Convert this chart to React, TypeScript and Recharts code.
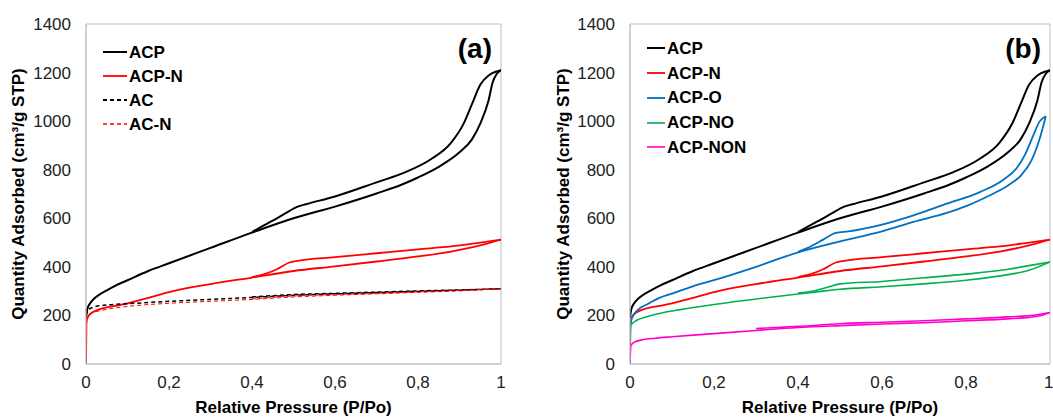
import React from "react";
import { LineChart, Line, XAxis, YAxis, ReferenceArea, Legend, Label } from "recharts";

// isotherm branches: [P/Po, quantity adsorbed]
const ACP_ADS = [[0, 190], [0.003, 225], [0.01, 250], [0.02, 270], [0.03, 283], [0.05, 303], [0.07, 322], [0.1, 345], [0.15, 383], [0.2, 415], [0.3, 478], [0.4, 541], [0.5, 600], [0.6, 648], [0.7, 702], [0.76, 738], [0.8, 768], [0.85, 812], [0.9, 872], [0.93, 925], [0.95, 990], [0.97, 1085], [0.98, 1160], [0.99, 1195], [1, 1210]];
const ACP_DES = [[0.4, 543], [0.42, 563], [0.45, 590], [0.48, 620], [0.51, 648], [0.53, 658], [0.6, 690], [0.7, 748], [0.77, 790], [0.83, 842], [0.88, 912], [0.91, 990], [0.93, 1070], [0.95, 1150], [0.97, 1188], [0.99, 1205], [1, 1210]];
const ACPN_ADS = [[0, 0], [0.001, 168], [0.005, 195], [0.015, 212], [0.03, 224], [0.05, 233], [0.075, 240], [0.1, 250], [0.15, 272], [0.2, 296], [0.3, 329], [0.4, 356], [0.5, 383], [0.6, 402], [0.7, 422], [0.8, 443], [0.88, 463], [0.95, 488], [1, 512]];
const ACPN_DES = [[0.4, 358], [0.43, 370], [0.46, 390], [0.49, 418], [0.51, 425], [0.6, 440], [0.7, 456], [0.8, 472], [0.88, 484], [0.95, 500], [1, 512]];
const AC_ADS = [[0, 200], [0.005, 222], [0.02, 235], [0.05, 243], [0.1, 248], [0.2, 258], [0.3, 266], [0.4, 274], [0.5, 283], [0.6, 289], [0.7, 294], [0.8, 299], [0.9, 304], [1, 310]];
const AC_DES = [[0.4, 276], [0.5, 286], [0.6, 291], [0.7, 296], [0.8, 301], [0.9, 305], [1, 310]];
const ACN_ADS = [[0, 180], [0.005, 202], [0.02, 213], [0.05, 225], [0.1, 237], [0.2, 250], [0.3, 258], [0.4, 266], [0.5, 276], [0.6, 283], [0.7, 289], [0.8, 295], [0.9, 301], [1, 310]];
const ACN_DES = [[0.4, 268], [0.5, 280], [0.6, 286], [0.7, 291], [0.8, 297], [0.9, 303], [1, 310]];
const ACPO_ADS = [[0, 150], [0.003, 180], [0.01, 205], [0.02, 225], [0.04, 245], [0.07, 272], [0.1, 290], [0.15, 320], [0.2, 345], [0.3, 400], [0.4, 460], [0.5, 505], [0.6, 546], [0.675, 585], [0.754, 622], [0.8, 650], [0.857, 695], [0.9, 735], [0.93, 775], [0.955, 835], [0.975, 925], [0.99, 1020]];
const ACPO_DES = [[0.4, 462], [0.42, 476], [0.46, 512], [0.49, 540], [0.52, 546], [0.6, 574], [0.675, 612], [0.754, 660], [0.833, 708], [0.89, 760], [0.92, 805], [0.94, 860], [0.96, 940], [0.975, 998], [0.99, 1020]];
const ACPNO_ADS = [[0, 88], [0.002, 160], [0.016, 180], [0.04, 195], [0.08, 212], [0.12, 224], [0.2, 245], [0.32, 272], [0.44, 296], [0.5, 308], [0.6, 318], [0.7, 330], [0.8, 345], [0.9, 368], [0.95, 386], [1, 420]];
const ACPNO_DES = [[0.4, 292], [0.44, 302], [0.47, 316], [0.5, 330], [0.6, 340], [0.7, 355], [0.8, 370], [0.9, 390], [0.95, 405], [1, 420]];
const ACPNON_ADS = [[0, 0], [0.002, 75], [0.01, 90], [0.03, 100], [0.06, 106], [0.1, 112], [0.2, 125], [0.3, 138], [0.4, 150], [0.5, 158], [0.6, 165], [0.7, 170], [0.8, 178], [0.9, 186], [0.95, 192], [0.98, 200], [1, 212]];
const ACPNON_DES = [[0.3, 146], [0.4, 155], [0.5, 166], [0.6, 172], [0.7, 178], [0.8, 186], [0.9, 194], [0.97, 203], [1, 212]];

const X_TICKS = [0, 0.2, 0.4, 0.6, 0.8, 1];
const Y_TICKS = [0, 200, 400, 600, 800, 1000, 1200, 1400];

const FONT = "'Liberation Sans', Arial, sans-serif";

type Series = { name: string; color: string; width: number; dash?: string; ads: number[][]; des: number[][] };

const ACP: Series = { name: "ACP", color: "#000000", width: 2, ads: ACP_ADS, des: ACP_DES };
const ACPN: Series = { name: "ACP-N", color: "#ff0000", width: 1.8, ads: ACPN_ADS, des: ACPN_DES };

const SERIES_A: Series[] = [
  ACP,
  ACPN,
  { name: "AC", color: "#000000", width: 1.5, dash: "4 3", ads: AC_ADS, des: AC_DES },
  { name: "AC-N", color: "#ff0000", width: 1, dash: "4 3", ads: ACN_ADS, des: ACN_DES },
];
const SERIES_B: Series[] = [
  ACP,
  ACPN,
  { name: "ACP-O", color: "#0070c0", width: 1.8, ads: ACPO_ADS, des: ACPO_DES },
  { name: "ACP-NO", color: "#00b050", width: 1.6, ads: ACPNO_ADS, des: ACPNO_DES },
  { name: "ACP-NON", color: "#ff00cc", width: 1.6, ads: ACPNON_ADS, des: ACPNON_DES },
];

const toPts = (arr: number[][]) => arr.map(([x, y]) => ({ x, y }));

type PanelProps = {
  series: Series[];
  letter: string;
  left: number;
  width: number;
  margin: { top: number; right: number; left: number; bottom: number };
  yLabelX: number;
  legendLeft: number;
  legendTop: number;
  rowH: number;
  sample: number;
};

function Panel(p: PanelProps) {
  const plotRight = p.width - p.margin.right;
  return (
    <div style={{ position: "absolute", left: p.left, top: 0, width: p.width, height: 417 }}>
      <LineChart width={p.width} height={417} margin={p.margin}>
        <XAxis
          type="number"
          dataKey="x"
          domain={[0, 1]}
          ticks={X_TICKS}
          tickFormatter={(v: number) => String(v).replace(".", ",")}
          tickLine={false}
          tickSize={0}
          tickMargin={12}
          height={30}
          stroke="#bfbfbf"
          tick={{ fill: "#222", fontSize: 17, fontFamily: FONT }}
          allowDataOverflow
        >
          <Label
            content={(props: any) => {
              const vb = props.viewBox;
              return (
                <text x={vb.x + vb.width / 2} y={vb.y + 49} textAnchor="middle" fontFamily={FONT} fontWeight="bold" fontSize={17} fill="#000">
                  Relative Pressure (P/Po)
                </text>
              );
            }}
          />
        </XAxis>
        <YAxis
          type="number"
          domain={[0, 1400]}
          ticks={Y_TICKS}
          tickLine={false}
          tickSize={0}
          tickMargin={15}
          width={50}
          stroke="#bfbfbf"
          tick={{ fill: "#222", fontSize: 17, fontFamily: FONT }}
        >
          <Label
            content={(props: any) => {
              const vb = props.viewBox;
              const cy = vb.y + vb.height / 2;
              return (
                <text x={p.yLabelX} y={cy} transform={`rotate(-90, ${p.yLabelX}, ${cy})`} textAnchor="middle" fontFamily={FONT} fontWeight="bold" fontSize={17} fill="#000">
                  Quantity Adsorbed (cm³/g STP)
                </text>
              );
            }}
          />
        </YAxis>
        <ReferenceArea x1={0} x2={1} y1={0} y2={1400} fill="none" stroke="#bfbfbf" strokeWidth={1} />
        {p.series.map((s) => (
          <Line
            key={s.name + "-ads"}
            data={toPts(s.ads)}
            dataKey="y"
            type="monotone"
            stroke={s.color}
            strokeWidth={s.width}
            strokeDasharray={s.dash}
            dot={false}
            legendType="none"
            isAnimationActive={false}
          />
        ))}
        {p.series.map((s) => (
          <Line
            key={s.name + "-des"}
            data={toPts(s.des)}
            dataKey="y"
            type="monotone"
            stroke={s.color}
            strokeWidth={s.width}
            strokeDasharray={s.dash}
            dot={false}
            legendType="none"
            isAnimationActive={false}
          />
        ))}
        <Legend
          layout="vertical"
          align="center"
          verticalAlign="middle"
          wrapperStyle={{ left: p.legendLeft, top: p.legendTop, width: "auto" }}
          content={() => (
            <div style={{ fontFamily: FONT, fontWeight: "bold", fontSize: 17, color: "#000" }}>
              {p.series.map((s) => (
                <div key={s.name} style={{ display: "flex", alignItems: "center", height: p.rowH }}>
                  <svg width={p.sample} height={6} style={{ display: "block" }}>
                    <line x1={0} y1={3} x2={p.sample} y2={3} stroke={s.color} strokeWidth={s.dash ? s.width + 0.5 : s.width} strokeDasharray={s.dash} />
                  </svg>
                  <span style={{ marginLeft: 2, lineHeight: 1 }}>{s.name}</span>
                </div>
              ))}
            </div>
          )}
        />
      </LineChart>
      <div
        style={{
          position: "absolute",
          top: 35,
          right: p.width - plotRight + 9,
          fontFamily: FONT,
          fontWeight: "bold",
          fontSize: 28,
          lineHeight: "28px",
          color: "#000",
        }}
      >
        {p.letter}
      </div>
    </div>
  );
}

export default function App() {
  return (
    <div style={{ position: "absolute", left: 0, top: 0, width: 1053, height: 417, background: "#fff", overflow: "hidden" }}>
      <Panel
        series={SERIES_A}
        letter="(a)"
        left={0}
        width={520}
        margin={{ top: 24, right: 19, left: 36, bottom: 23 }}
        yLabelX={24}
        legendLeft={103}
        legendTop={40}
        rowH={24}
        sample={24}
      />
      <Panel
        series={SERIES_B}
        letter="(b)"
        left={530}
        width={523}
        margin={{ top: 24, right: 3, left: 50, bottom: 23 }}
        yLabelX={39}
        legendLeft={117}
        legendTop={36}
        rowH={24.75}
        sample={18}
      />
    </div>
  );
}
